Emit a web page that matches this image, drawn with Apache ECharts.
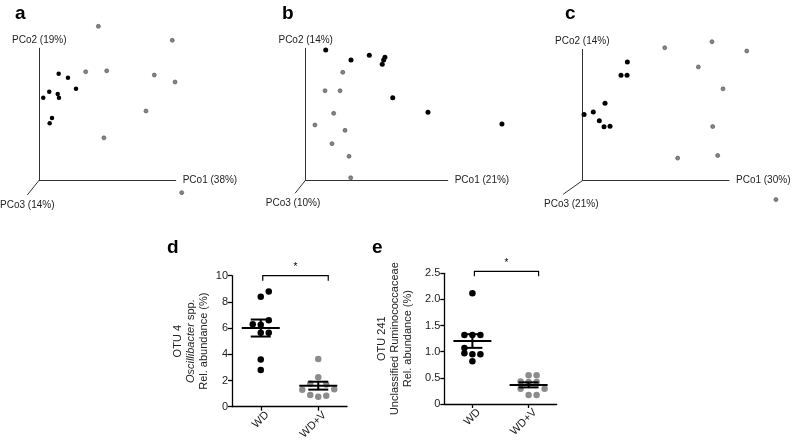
<!DOCTYPE html>
<html><head><meta charset="utf-8">
<script src="https://cdn.jsdelivr.net/npm/echarts@6/dist/echarts.min.js"></script>
<style>html,body{margin:0;padding:0;background:#fff}#c{width:794px;height:446px}</style>
</head><body><div id="c"></div>
<script>
// ---------- DATA ----------
// PCoA panels: [PCo1, PCo2] projected positions, in % of the drawn axis length
const aBlack = [[14.2,80.7],[21.0,77.7],[26.9,69.3],[7.3,67.0],[2.9,62.5],[13.5,65.3],[14.4,62.5],[9.3,47.1],[7.6,43.1]];
const aGrey  = [[43.3,116.7],[97.5,106.1],[34.0,82.2],[49.4,82.9],[84.3,79.7],[99.5,74.4],[78.2,52.4],[47.4,32.0],[104.4,-9.6]];
const bBlack = [[14.1,98.7],[31.9,91.1],[44.8,94.7],[55.8,93.2],[54.9,91.1],[53.9,87.8],[61.3,62.4],[86.1,51.4],[138.2,42.5]];
const bGrey  = [[26.1,81.8],[13.6,67.8],[24.2,67.8],[19.7,50.6],[6.5,41.8],[27.7,37.7],[18.5,27.6],[30.5,18.0],[31.7,1.7]];
const cBlack = [[30.7,90.4],[26.4,80.3],[30.5,80.3],[15.5,59.0],[7.5,52.2],[1.2,50.3],[11.6,45.6],[14.8,41.0],[18.9,41.5]];
const cGrey  = [[56.2,101.2],[88.4,105.8],[112.1,98.7],[79.1,86.6],[95.9,69.9],[88.9,41.2],[65.0,17.2],[92.3,19.2],[132.0,-14.4]];
const axisNamesA = ['PCo1 (38%)','PCo2 (19%)','PCo3 (14%)'];
const axisNamesB = ['PCo1 (21%)','PCo2 (14%)','PCo3 (10%)'];
const axisNamesC = ['PCo1 (30%)','PCo2 (14%)','PCo3 (21%)'];

// Dot plots
const groups = ['WD','WD+V'];
const dWD   = [8.8,8.4,6.6,6.3,6.25,5.65,5.65,3.6,2.8];
const dWDV  = [3.64,2.24,1.75,1.7,1.33,1.3,0.89,0.76,0.84];
const eWD   = [2.12,1.32,1.32,1.32,1.07,0.97,0.95,0.95,0.82];
const eWDV  = [0.55,0.55,0.43,0.42,0.42,0.29,0.29,0.17,0.17];
const dTicks = [0,2,4,6,8,10];
const eTicks = [0,0.5,1.0,1.5,2.0,2.5];
// dot column (jitter) slots, layout only
const dWDcol  = [1,0,1,-1,0,0,1,0,0];
const dWDVcol = [0,0,-1,1,2,-2,-1,0,1];
const eWDcol  = [0,-1,0,1,-1,-1,0,1,0];
const eWDVcol = [0,1,-1,0,1,2,-1,0,1];

// ---------- HELPERS ----------
const FF = 'Liberation Sans, Arial, Helvetica, sans-serif';
function meanSem(v){const n=v.length;const m=v.reduce((a,b)=>a+b,0)/n;
  const sd=Math.sqrt(v.reduce((a,b)=>a+(b-m)*(b-m),0)/(n-1));return [m, sd/Math.sqrt(n)];}

const grids = [
  {left:39.3, top:48.3, width:136.4, height:131.7},
  {left:305.7, top:48.3, width:142, height:131.7},
  {left:582.3, top:49.3, width:146.7, height:131.4},
  {left:232, top:275.7, width:115, height:131},
  {left:444.3, top:273.3, width:112.4, height:130.7}
];
const xAxes=[], yAxes=[], series=[];
const topPanels = [
  {black:aBlack, grey:aGrey, names:axisNamesA, diag:[-8.8,-11.4], off:0, bs:4.5},
  {black:bBlack, grey:bGrey, names:axisNamesB, diag:[-7.5,-10.1], off:-2, bs:5},
  {black:cBlack, grey:cGrey, names:axisNamesC, diag:[-13.0,-10.3], off:8, bs:5}
];
topPanels.forEach((p,i)=>{
  xAxes.push({gridIndex:i,type:'value',min:0,max:100,name:p.names[0],nameLocation:'end',nameGap:7,
    nameTextStyle:{fontSize:10,color:'#222',fontFamily:FF},
    axisLine:{show:true,onZero:false,lineStyle:{color:'#333',width:1}},axisTick:{show:false},axisLabel:{show:false},splitLine:{show:false}});
  yAxes.push({gridIndex:i,type:'value',min:0,max:100,name:p.names[1],nameLocation:'end',nameGap:3,
    nameTextStyle:{fontSize:10,color:'#222',fontFamily:FF,align:'center'},
    axisLine:{show:true,onZero:false,lineStyle:{color:'#333',width:1}},axisTick:{show:false},axisLabel:{show:false},splitLine:{show:false}});
  // third (PCo3) axis drawn as an oblique line from the origin
  series.push({type:'custom',xAxisIndex:i,yAxisIndex:i,silent:true,clip:false,
    data:[[0,0,p.diag[0],p.diag[1]]],
    renderItem:(params,api)=>{
      const o=api.coord([api.value(0),api.value(1)]);
      const e=api.coord([api.value(2),api.value(3)]);
      return {type:'group',children:[
        {type:'line',shape:{x1:o[0],y1:o[1],x2:e[0],y2:e[1]},style:{stroke:'#333',lineWidth:1}},
        {type:'text',style:{text:p.names[2],x:e[0]+p.off,y:e[1]+5,align:'center',verticalAlign:'top',
          fontSize:10,fill:'#222',fontFamily:FF}}]};
    }});
  series.push({type:'scatter',xAxisIndex:i,yAxisIndex:i,clip:false,symbolSize:4,
    itemStyle:{color:'#858585',borderColor:'#4a4a4a',borderWidth:0.6,opacity:1},data:p.grey});
  series.push({type:'scatter',xAxisIndex:i,yAxisIndex:i,clip:false,symbolSize:p.bs,
    itemStyle:{color:'#000',opacity:1},data:p.black});
});

const dotPanels = [
  {wd:dWD, wdv:dWDV, wdc:dWDcol, wdvc:dWDVcol, max:10, interval:2, gap:22,
   name:'OTU 4\n{it|Oscillibacter} spp.\nRel. abundance (%)', fmt:v=>String(v), by:0},
  {wd:eWD, wdv:eWDV, wdc:eWDcol, wdvc:eWDVcol, max:2.5, interval:0.5, gap:30,
   name:'OTU 241\nUnclassified Ruminococcaceae\nRel. abundance (%)', fmt:v=>v===0?'0':v.toFixed(1), by:-2}
];
dotPanels.forEach((p,k)=>{
  const i=k+3;
  xAxes.push({gridIndex:i,type:'category',data:groups,boundaryGap:true,
    axisLine:{show:true,lineStyle:{color:'#000',width:1.3}},
    axisTick:{show:true,alignWithLabel:true,length:4,lineStyle:{color:'#000',width:1.3}},
    axisLabel:{rotate:45,fontSize:11,color:'#222',fontFamily:FF,margin:13,padding:[0,-9,0,0]},splitLine:{show:false}});
  yAxes.push({gridIndex:i,type:'value',min:0,max:p.max,interval:p.interval,
    name:p.name,nameLocation:'middle',nameGap:p.gap,nameRotate:90,
    nameTextStyle:{fontSize:11,lineHeight:13,color:'#222',fontFamily:FF,
      rich:{it:{fontStyle:'italic',fontSize:11,lineHeight:13,color:'#222',fontFamily:FF}}},
    axisLine:{show:true,lineStyle:{color:'#000',width:1.3}},
    axisTick:{show:true,length:4,lineStyle:{color:'#000',width:1.3}},
    axisLabel:{fontSize:11,color:'#222',fontFamily:FF,margin:4,formatter:p.fmt},splitLine:{show:false}});
  series.push({type:'scatter',xAxisIndex:i,yAxisIndex:i,symbolSize:6.5,itemStyle:{color:'#000',opacity:1},
    data:p.wd.map((v,j)=>({value:[0,v],symbolOffset:[p.wdc[j]*8,0]}))});
  series.push({type:'scatter',xAxisIndex:i,yAxisIndex:i,symbolSize:6.5,itemStyle:{color:'#8c8c8c',opacity:1},
    data:p.wdv.map((v,j)=>({value:[1,v],symbolOffset:[p.wdvc[j]*8,0]}))});
  const s1=meanSem(p.wd), s2=meanSem(p.wdv);
  series.push({type:'custom',xAxisIndex:i,yAxisIndex:i,silent:true,z:5,
    data:[[0,s1[0],s1[1]],[1,s2[0],s2[1]]],
    renderItem:(params,api)=>{
      const c=api.coord([api.value(0),api.value(1)]);
      const t=api.coord([api.value(0),api.value(1)+api.value(2)])[1];
      const b=api.coord([api.value(0),api.value(1)-api.value(2)])[1];
      const st={stroke:'#000',lineWidth:2};
      return {type:'group',children:[
        {type:'line',shape:{x1:c[0]-19,y1:c[1],x2:c[0]+19,y2:c[1]},style:st},
        {type:'line',shape:{x1:c[0],y1:t,x2:c[0],y2:b},style:st},
        {type:'line',shape:{x1:c[0]-10,y1:t,x2:c[0]+10,y2:t},style:st},
        {type:'line',shape:{x1:c[0]-10,y1:b,x2:c[0]+10,y2:b},style:st}]};
    }});
  series.push({type:'custom',xAxisIndex:i,yAxisIndex:i,silent:true,z:5,clip:false,
    data:[[0,1,p.max]],
    renderItem:(params,api)=>{
      const l=api.coord([api.value(0),api.value(2)]);
      const r=api.coord([api.value(1),api.value(2)]);
      const x1=l[0]+2, x2=r[0]+10, y=l[1]+p.by;
      return {type:'group',children:[
        {type:'polyline',shape:{points:[[x1,y+5],[x1,y],[x2,y],[x2,y+5]]},style:{stroke:'#000',lineWidth:1.2,fill:null}},
        {type:'text',style:{text:'*',x:(x1+x2)/2,y:y-3,align:'center',verticalAlign:'bottom',fontSize:10,fill:'#000',fontFamily:FF}}]};
    }});
});

const letters=[['a',15,20],['b',282,20],['c',565,20],['d',167,254],['e',372,254]];
const chart=echarts.init(document.getElementById('c'),null,{renderer:'canvas'});
chart.setOption({
  animation:false,backgroundColor:'#fff',
  grid:grids, xAxis:xAxes, yAxis:yAxes, series:series,
  graphic:letters.map(l=>({type:'text',left:l[1],top:l[2]-16,
    style:{text:l[0],fontSize:19,fontWeight:'bold',fill:'#000',fontFamily:FF}}))
});
</script></body></html>
